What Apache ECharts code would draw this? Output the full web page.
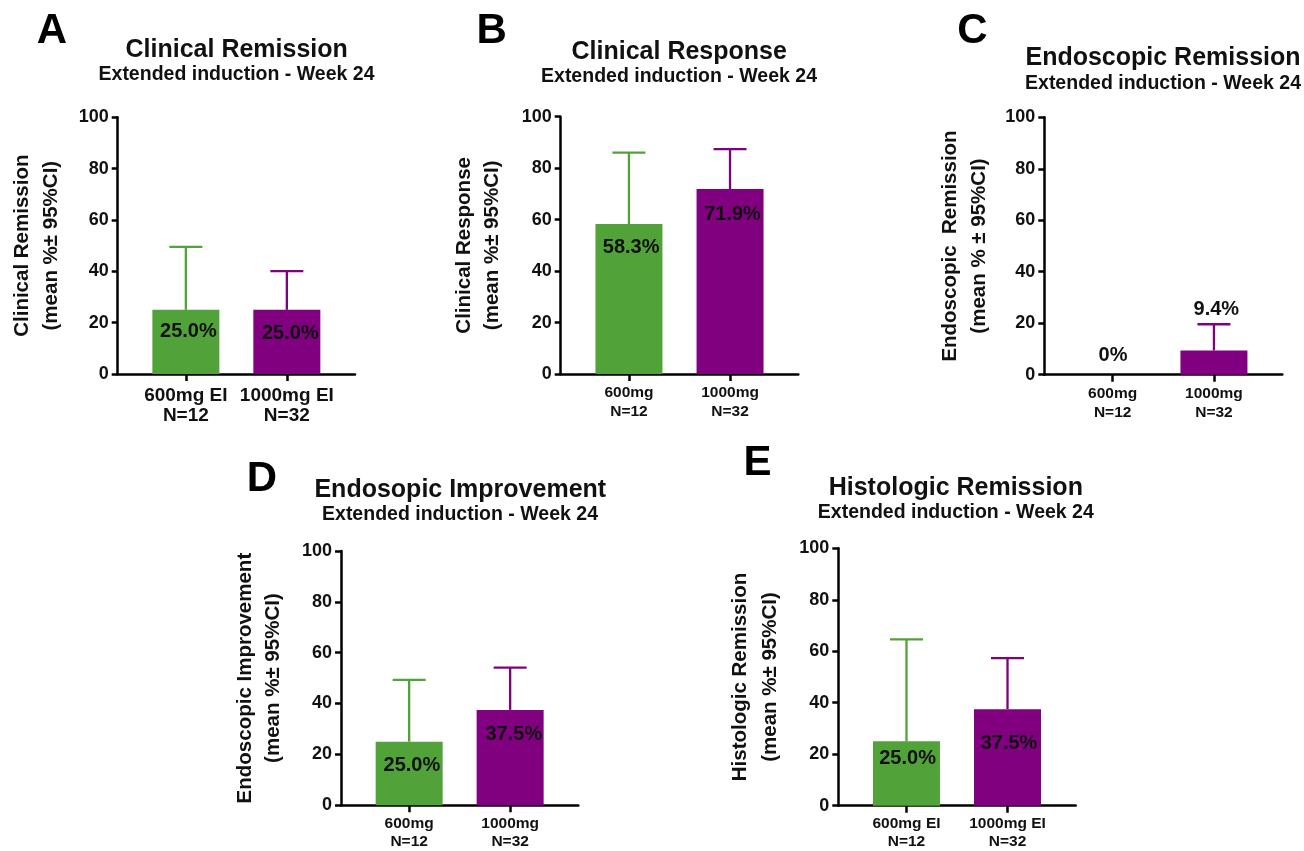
<!DOCTYPE html>
<html>
<head>
<meta charset="utf-8">
<script src="https://cdn.jsdelivr.net/npm/echarts@6/dist/echarts.min.js"></script>
<style>
html,body{margin:0;padding:0;background:#fff;}
#chart{width:1304px;height:851px;}
</style>
</head>
<body>
<div id="chart"></div>
<script>
// ---- data ----
const groupColors = ['#52a23a', '#800080'];
const yTicks = [0, 20, 40, 60, 80, 100];

const catsA = ['600mg EI\nN=12', '1000mg EI\nN=32'];
const meanA = [25.0, 25.0];
const upperA = [49.5, 40.1];
const labelsA = ['25.0%', '25.0%'];

const catsB = ['600mg\nN=12', '1000mg\nN=32'];
const meanB = [58.3, 71.9];
const upperB = [86.0, 87.4];
const labelsB = ['58.3%', '71.9%'];

const catsC = ['600mg\nN=12', '1000mg\nN=32'];
const meanC = [0, 9.4];
const upperC = [0, 19.6];
const labelsC = ['0%', '9.4%'];

const catsD = ['600mg\nN=12', '1000mg\nN=32'];
const meanD = [25.0, 37.5];
const upperD = [49.3, 54.1];
const labelsD = ['25.0%', '37.5%'];

const catsE = ['600mg EI\nN=12', '1000mg EI\nN=32'];
const meanE = [25.0, 37.5];
const upperE = [64.6, 57.3];
const labelsE = ['25.0%', '37.5%'];

// ---- layout (positions/styles) ----
const FONT = '"Liberation Sans", Arial, sans-serif';
const panels = [
  {letter:'A', title:'Clinical Remission', sub:'Extended induction - Week 24',
   yName:'Clinical Remission\n(mean %\u00b1 95%CI)',
   cats:catsA, mean:meanA, upper:upperA, labels:labelsA,
   grid:{left:117.7, top:117.3, width:237.3, height:256.7},
   letterPos:[52,31], titlePos:[236.7,50], subPos:[236.5,75],
   nameGap:51.5, nameLH:29, xFont:19, xLH:20, xMargin:12,
   lblOff:[[2.5,21.7],[3.5,23.3]]},
  {letter:'B', title:'Clinical Response', sub:'Extended induction - Week 24',
   yName:'Clinical Response\n(mean %\u00b1 95%CI)',
   cats:catsB, mean:meanB, upper:upperB, labels:labelsB,
   grid:{left:560.7, top:116.7, width:237.6, height:257.3},
   letterPos:[491.7,31], titlePos:[679.2,51.7], subPos:[679,76.7],
   nameGap:53.6, nameLH:28.7, xFont:15.5, xLH:18.4, xMargin:10,
   lblOff:[[2.2,23.3],[2.5,25]]},
  {letter:'C', title:'Endoscopic Remission', sub:'Extended induction - Week 24',
   yName:'Endoscopic  Remission\n(mean % \u00b1 95%CI)',
   cats:catsC, mean:meanC, upper:upperC, labels:labelsC,
   grid:{left:1044.3, top:117.3, width:238, height:257.4},
   letterPos:[972.5,31.7], titlePos:[1163,58.3], subPos:[1163,83.3],
   nameGap:50.8, nameLH:29, xFont:15.5, xLH:18.4, xMargin:10,
   lblOff:[[0.4,-19.7],[2.4,-40.7]]},
  {letter:'D', title:'Endosopic Improvement', sub:'Extended induction - Week 24',
   yName:'Endoscopic Improvement\n(mean %\u00b1 95%CI)',
   cats:catsD, mean:meanD, upper:upperD, labels:labelsD,
   grid:{left:341, top:551, width:237.3, height:259},
   letterPos:[262,479], titlePos:[460.3,490], subPos:[460,515],
   nameGap:53.5, nameLH:28.3, xFont:15.5, xLH:18.4, xMargin:9,
   lblOff:[[2.7,24.3],[3.7,24.3]]},
  {letter:'E', title:'Histologic Remission', sub:'Extended induction - Week 24',
   yName:'Histologic Remission\n(mean %\u00b1 95%CI)',
   cats:catsE, mean:meanE, upper:upperE, labels:labelsE,
   grid:{left:838.3, top:548.3, width:237.4, height:257.4},
   letterPos:[757.5,463], titlePos:[955.8,488.3], subPos:[955.8,512.7],
   nameGap:53.7, nameLH:29.3, xFont:15.5, xLH:18.4, xMargin:8.5,
   lblOff:[[1.1,16.7],[1.5,34]]}
];

const XMIN = -0.675, XMAX = 1.675;
const grids = [], xAxes = [], yAxes = [], series = [], graphics = [];

panels.forEach((p, i) => {
  grids.push(Object.assign({containLabel:false}, p.grid));
  xAxes.push({
    type:'value', gridIndex:i, min:XMIN, max:XMAX,
    axisLine:{show:true, onZero:false, lineStyle:{color:'#000', width:2.5}},
    axisTick:{show:true, customValues:[0,1], length:7, inside:false, lineStyle:{color:'#000', width:2.5}},
    axisLabel:{show:true, customValues:[0,1], margin:p.xMargin,
      formatter:(v) => p.cats[Math.round(v)] || '',
      fontFamily:FONT, fontWeight:'bold', fontSize:p.xFont, lineHeight:p.xLH, color:'#111'},
    splitLine:{show:false}
  });
  yAxes.push({
    type:'value', gridIndex:i, min:0, max:100, interval:20,
    name:p.yName, nameLocation:'middle', nameGap:p.nameGap, nameRotate:90,
    nameTextStyle:{fontFamily:FONT, fontWeight:'bold', fontSize:20.5, lineHeight:p.nameLH, color:'#111', align:'center'},
    axisLine:{show:true, onZero:false, lineStyle:{color:'#000', width:2.5}},
    axisTick:{show:true, length:6, lineStyle:{color:'#000', width:2.5}},
    axisLabel:{margin:9, fontFamily:FONT, fontWeight:'bold', fontSize:18, color:'#111'},
    splitLine:{show:false}
  });
  series.push({
    type:'bar', xAxisIndex:i, yAxisIndex:i, barWidth:67,
    data:p.mean.map((v, k) => ({value:[k, v], itemStyle:{color:groupColors[k]}})),
    silent:true, z:2
  });
  series.push({
    type:'custom', xAxisIndex:i, yAxisIndex:i, z:5, silent:true,
    data:p.mean.map((v, k) => [k, v, p.upper[k]]),
    renderItem:(params, api) => {
      const k = params.dataIndex;
      const x = api.value(0), v = api.value(1), up = api.value(2);
      const p0 = api.coord([x, v]);
      const p1 = api.coord([x, up]);
      const col = groupColors[k];
      const children = [];
      if (up > v) {
        children.push({type:'line', shape:{x1:p0[0], y1:p0[1], x2:p1[0], y2:p1[1]},
          style:{stroke:col, lineWidth:2.3}});
        children.push({type:'line', shape:{x1:p1[0]-16.5, y1:p1[1], x2:p1[0]+16.5, y2:p1[1]},
          style:{stroke:col, lineWidth:2.3}});
      }
      const off = p.lblOff[k];
      children.push({type:'text', x:p0[0]+off[0], y:p0[1]+off[1],
        style:{text:p.labels[k], fill:'#111', fontFamily:FONT, fontWeight:'bold', fontSize:20,
          align:'center', verticalAlign:'middle'}});
      return {type:'group', children};
    }
  });
  graphics.push({type:'text', x:p.letterPos[0], y:p.letterPos[1],
    style:{text:p.letter, fill:'#000', fontFamily:FONT, fontWeight:'bold', fontSize:42, align:'center', verticalAlign:'middle'}});
  graphics.push({type:'text', x:p.titlePos[0], y:p.titlePos[1],
    style:{text:p.title, fill:'#111', fontFamily:FONT, fontWeight:'bold', fontSize:25, align:'center', verticalAlign:'middle'}});
  graphics.push({type:'text', x:p.subPos[0], y:p.subPos[1],
    style:{text:p.sub, fill:'#111', fontFamily:FONT, fontWeight:'bold', fontSize:19.5, align:'center', verticalAlign:'middle'}});
});

const chart = echarts.init(document.getElementById('chart'), null, {renderer:'canvas'});
chart.setOption({
  animation:false,
  backgroundColor:'#fff',
  grid:grids, xAxis:xAxes, yAxis:yAxes, series:series,
  graphic:graphics
});
</script>
</body>
</html>
